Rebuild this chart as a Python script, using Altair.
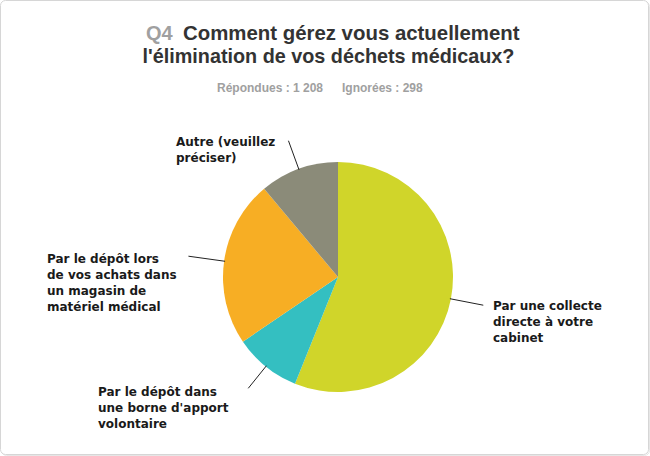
import altair as alt
import pandas as pd
import numpy as np

# ---- data ----
categories = [
    "Par une collecte directe à votre cabinet",
    "Par le dépôt dans une borne d'apport volontaire",
    "Par le dépôt lors de vos achats dans un magasin de matériel médical",
    "Autre (veuillez préciser)",
]
label_lines = [
    "Par une collecte\ndirecte à votre\ncabinet",
    "Par le dépôt dans\nune borne d'apport\nvolontaire",
    "Par le dépôt lors\nde vos achats dans\nun magasin de\nmatériel médical",
    "Autre (veuillez\npréciser)",
]
values = [56.1, 9.4, 23.4, 11.1]
colors = ["#d0d52a", "#34bfc1", "#f7ae24", "#8b8b79"]

title_q = "Q4"
title_line1 = "Comment gérez vous actuellement"
title_line2 = "l'élimination de vos déchets médicaux?"
answered = "Répondues : 1 208"
skipped = "Ignorées : 298"

# ---- layout ----
W, H = 650, 456
CX, CY, R = 338, 277, 115
leader_len = [33, 28, 36, 30]
label_pos = [(493, 310), (98, 396), (47, 263), (176, 146)]

df = pd.DataFrame({"cat": categories, "value": values, "idx": list(range(len(values)))})

total = sum(values)
cum = np.cumsum([0] + values)
rows = []
for i, v in enumerate(values):
    mid = (cum[i] + cum[i + 1]) / 2 / total * 2 * np.pi
    s, c = np.sin(mid), np.cos(mid)
    rows.append({"k": i, "o": 0, "px": CX + (R - 1) * s, "py": CY - (R - 1) * c})
    rows.append({"k": i, "o": 1, "px": CX + (R + leader_len[i]) * s, "py": CY - (R + leader_len[i]) * c})
leaders = pd.DataFrame(rows)

labels = pd.DataFrame({
    "t": label_lines,
    "px": [p[0] for p in label_pos],
    "py": [p[1] for p in label_pos],
})

one = pd.DataFrame({"a": [0]})

border_shadow = alt.Chart(one).mark_rect(
    cornerRadius=5, fill="white", stroke="#e6e6e6", strokeWidth=1
).encode(x=alt.value(1.5), x2=alt.value(649.5), y=alt.value(1.5), y2=alt.value(455.5))

border = alt.Chart(one).mark_rect(
    cornerRadius=5, fill="white", stroke="#d6d6d6", strokeWidth=1
).encode(x=alt.value(0.5), x2=alt.value(648.5), y=alt.value(0.5), y2=alt.value(454.5))

pie = alt.Chart(df).mark_arc(outerRadius=R, stroke=None).encode(
    theta=alt.Theta("value:Q", stack=True),
    order=alt.Order("idx:Q"),
    color=alt.Color("cat:N", scale=alt.Scale(domain=categories, range=colors), legend=None),
    x=alt.value(CX),
    y=alt.value(CY),
)

lead = alt.Chart(leaders).mark_line(color="#222222", strokeWidth=1).encode(
    x=alt.X("px:Q", scale=None),
    y=alt.Y("py:Q", scale=None),
    detail="k:N",
    order="o:Q",
)

lab = alt.Chart(labels).mark_text(
    align="left", baseline="alphabetic", font="DejaVu Sans", fontWeight="bold",
    fontSize=12, lineHeight=16, lineBreak="\n", color="#1a1a1a",
).encode(x=alt.X("px:Q", scale=None), y=alt.Y("py:Q", scale=None), text="t:N")

tfont = "Liberation Sans"
t_q = alt.Chart(one).mark_text(
    text=title_q, align="left", baseline="alphabetic", font=tfont, fontWeight="bold",
    fontSize=20, color="#a0a0a0",
).encode(x=alt.value(146), y=alt.value(40))
t_1 = alt.Chart(one).mark_text(
    text=title_line1, align="left", baseline="alphabetic", font=tfont, fontWeight="bold",
    fontSize=20.4, color="#333333",
).encode(x=alt.value(183), y=alt.value(40))
t_2 = alt.Chart(one).mark_text(
    text=title_line2, align="center", baseline="alphabetic", font=tfont, fontWeight="bold",
    fontSize=19.8, color="#333333",
).encode(x=alt.value(328.5), y=alt.value(63))
s_1 = alt.Chart(one).mark_text(
    text=answered, align="left", baseline="alphabetic", font=tfont, fontWeight="bold",
    fontSize=12, color="#a0a0a0",
).encode(x=alt.value(217), y=alt.value(92))
s_2 = alt.Chart(one).mark_text(
    text=skipped, align="left", baseline="alphabetic", font=tfont, fontWeight="bold",
    fontSize=12, color="#a0a0a0",
).encode(x=alt.value(342), y=alt.value(92))

chart = alt.layer(
    border_shadow, border, pie, lead, lab, t_q, t_1, t_2, s_1, s_2
).properties(
    width=W, height=H, autosize=alt.AutoSizeParams(type="none"), padding=0,
    background="white",
).configure_view(stroke=None)

chart.save("out.html", embed_options={"renderer": "svg", "actions": False})
